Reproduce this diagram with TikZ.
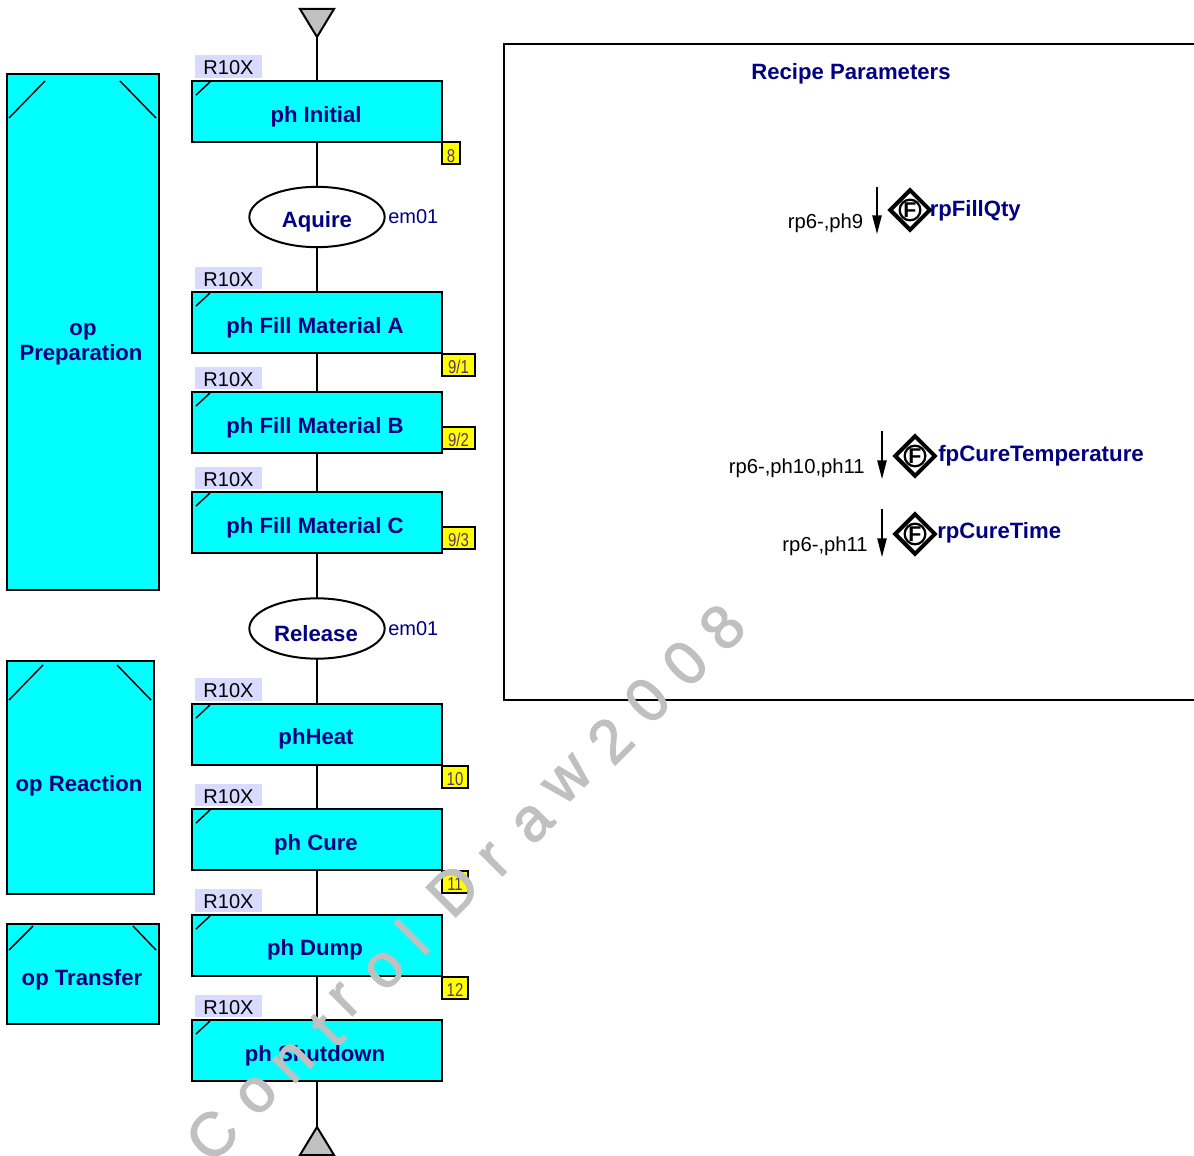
\documentclass[tikz,border=0pt]{standalone}
\usepackage{fontspec}
\setmainfont{Liberation Sans}
\newfontfamily\narrowfont[FakeStretch=0.8]{Liberation Sans}
\newfontfamily\wmfont[FakeBold=2.0]{Liberation Sans}
\usetikzlibrary{arrows.meta,shapes.geometric}
\definecolor{navytxt}{RGB}{0,0,128}
\definecolor{cyanfill}{RGB}{0,255,255}
\definecolor{tagbg}{RGB}{216,218,255}
\definecolor{tagtxt}{RGB}{90,50,110}
\definecolor{wm}{RGB}{192,192,192}
\definecolor{yfill}{RGB}{255,255,0}
\newcommand{\ytxt}[1]{\raisebox{-7pt}[0pt][0pt]{#1}}
\newcommand{\rtxt}{\raisebox{-6.3pt}[0pt][0pt]{R10X}}
\tikzset{
  x=0.75pt,y=-0.75pt,
  line/.style={draw=black,line width=1.5pt},
  thinline/.style={draw=black,line width=1.1pt},
  phbox/.style={line,fill=cyanfill,minimum width=187pt,minimum height=45.25pt,inner sep=0pt,outer sep=0pt},
  boldtxt/.style={font=\fontsize{16.6}{19}\selectfont\bfseries,text=navytxt,inner sep=0pt,align=center},
  evt/.style={ellipse,line,fill=white,minimum width=101.5pt,minimum height=45.25pt,inner sep=0pt,outer sep=0pt},
  rtag/.style={fill=tagbg,minimum width=50.25pt,minimum height=17pt,inner sep=0pt,font=\fontsize{15}{17}\selectfont,text=black},
  ytag/.style={rectangle,line,fill=yfill,inner sep=0pt,minimum height=16.5pt,font=\narrowfont\fontsize{14}{15}\selectfont,text=tagtxt},
  em/.style={font=\fontsize{15}{17}\selectfont,text=navytxt,inner sep=0pt,anchor=west},
  ref/.style={font=\fontsize{15.2}{17}\selectfont,text=black,inner sep=0pt,anchor=east},
  opbox/.style={rectangle,line,fill=cyanfill,inner sep=0pt,outer sep=0pt},
  tri/.style={line,fill=wm,line join=miter},
  fdia/.style={diamond,draw=black,line width=3pt,fill=white,minimum width=31pt,minimum height=31pt,inner sep=0pt},
  fsym/.style={circle,draw=black,line width=1.7pt,fill=white,minimum size=15.5pt,inner sep=0pt,font=\fontsize{16}{16}\selectfont\bfseries},
  parrow/.style={draw=black,line width=1.1pt,-{Stealth[inset=0pt,length=14pt,width=7pt]}},
  wmk/.style={font=\wmfont\fontsize{46}{46}\selectfont,text=wm,rotate=45,inner sep=0pt}
}
\begin{document}
\begin{tikzpicture}
\useasboundingbox[fill=white] (0,0) rectangle (1194,1155);

% operation boxes
\node[opbox,minimum width=113.5pt,minimum height=387.25pt] (opA) at (83,332) {};
\node[opbox,minimum width=109.75pt,minimum height=175pt] (opB) at (80.5,777.5) {};
\node[opbox,minimum width=113.5pt,minimum height=74.5pt] (opC) at (83,974) {};
\draw[thinline] (9,118)--(45,81) (120,81)--(156,118);
\draw[thinline] (9,700)--(43,665) (117,665)--(151,700);
\draw[thinline] (9,950)--(33,926) (133,926)--(156,950);
\node[boldtxt] (opAt) at (81,344) {\hspace*{3pt}op\\Preparation};
\node[boldtxt] (opBt) at (79,786) {op Reaction};
\node[boldtxt] (opCt) at (82,980) {op Transfer};

% spine elements
\coordinate (t1) at (300,9);\coordinate (t2) at (334,9);\coordinate (tt) at (317,37);
\coordinate (b1) at (300,1155);\coordinate (b2) at (334,1155);\coordinate (bt) at (317,1127);

\node[phbox] (p1) at (317,111.5) {};
\node[evt] (e1) at (317,217) {};
\node[phbox] (p2) at (317,322.5) {};
\node[phbox] (p3) at (317,422.5) {};
\node[phbox] (p4) at (317,522.5) {};
\node[evt] (e2) at (317,628.5) {};
\node[phbox] (p5) at (317,734.5) {};
\node[phbox] (p6) at (317,839.5) {};
\node[phbox] (p7) at (317,945.5) {};
\node[phbox] (p8) at (317,1050.5) {};

\draw[line] (tt)--(p1);
\draw[line] (p1)--(e1);
\draw[line] (e1)--(p2);
\draw[line] (p2)--(p3);
\draw[line] (p3)--(p4);
\draw[line] (p4)--(e2);
\draw[line] (e2)--(p5);
\draw[line] (p5)--(p6);
\draw[line] (p6)--(p7);
\draw[line] (p7)--(p8);
\draw[line] (p8)--(bt);
\draw[tri] (t1)--(t2)--(tt)--cycle;
\draw[tri] (b1)--(b2)--(bt)--cycle;

% R10X tags
\foreach \n/\y in {a/66.5,b/278,c/378,d/478,e/689.5,f/795,g/900.5,h/1006}
  \node[rtag] (r\n) at (228.5,\y) {\rtxt};

% corner ticks
\foreach \y in {81,292,392,492,704,809,915,1020}
  \draw[thinline] (196,\y+14)--(210,\y+1);

% labels in phases
\node[boldtxt] (l1) at (316,117) {ph Initial};
\node[boldtxt] (l2) at (315,328) {ph Fill Material A};
\node[boldtxt] (l3) at (315,428) {ph Fill Material B};
\node[boldtxt] (l4) at (315,528) {ph Fill Material C};
\node[boldtxt] (l5) at (316,739) {phHeat};
\node[boldtxt] (l6) at (316,845) {ph Cure};
\node[boldtxt] (l7) at (315,950) {ph Dump};
\node[boldtxt] (l8) at (315,1056) {ph Shutdown};
\node[boldtxt] (l9) at (317,222) {Aquire};
\node[boldtxt] (l10) at (316,634) {Release};
\node[em] (m1) at (388,217) {em01};
\node[em] (m2) at (388,629) {em01};

% yellow tags
\node[ytag,minimum width=13pt] (y1) at (451,153.5) {\ytxt{8}};
\node[ytag,minimum width=24.25pt] (y2) at (458.5,364.5) {\ytxt{9/1}};
\node[ytag,minimum width=24.25pt] (y3) at (458.5,437.5) {\ytxt{9/2}};
\node[ytag,minimum width=24.25pt] (y4) at (458.5,537.5) {\ytxt{9/3}};
\node[ytag,minimum width=19pt] (y5) at (455,776.5) {\ytxt{10}};
\node[ytag,minimum width=19pt] (y6) at (455,881.5) {\ytxt{11}};
\node[ytag,minimum width=19pt] (y7) at (455,987.5) {\ytxt{12}};

% recipe panel
\draw[line] (1210,44)--(504,44)--(504,700)--(1210,700);
\node[boldtxt] (rp) at (851,74) {Recipe Parameters};

\coordinate (a1s) at (877,187);\coordinate (a1e) at (877,234);
\coordinate (a2s) at (882,431);\coordinate (a2e) at (882,479);
\coordinate (a3s) at (882,509);\coordinate (a3e) at (882,557);
\draw[parrow] (a1s)--(a1e);
\draw[parrow] (a2s)--(a2e);
\draw[parrow] (a3s)--(a3e);
\node[ref] (q1) at (863.5,223) {rp6-,ph9};
\node[ref] (q2) at (865,468) {rp6-,ph10,ph11};
\node[ref] (q3) at (868,546) {rp6-,ph11};
\node[fdia] (d1) at (910,210) {};
\node[fdia] (d2) at (915,456) {};
\node[fdia] (d3) at (915,534) {};
\node[fsym] (f1) at (910,210) {F};
\node[fsym] (f2) at (915,456) {F};
\node[fsym] (f3) at (915,534) {F};
\node[boldtxt,anchor=west] (n1) at (929.5,211) {rpFillQty};
\node[boldtxt,anchor=west] (n2) at (938,456) {\fontsize{16.75}{19}\selectfont fpCureTemperature};
\node[boldtxt,anchor=west] (n3) at (937,533) {rpCureTime};

% watermark
\foreach \ch/\x/\y in {C/212/1135,o/257/1095,n/293/1062,t/327/1030,r/345/1000,o/385/970,l/412/937,D/453/890,r/495/860,a/533/823,w/568/780,2/610/740,0/647/700,0/685/663,8/722/627}
  \node[wmk] (w\x) at (\x,\y) {\ch};
\end{tikzpicture}
\end{document}
